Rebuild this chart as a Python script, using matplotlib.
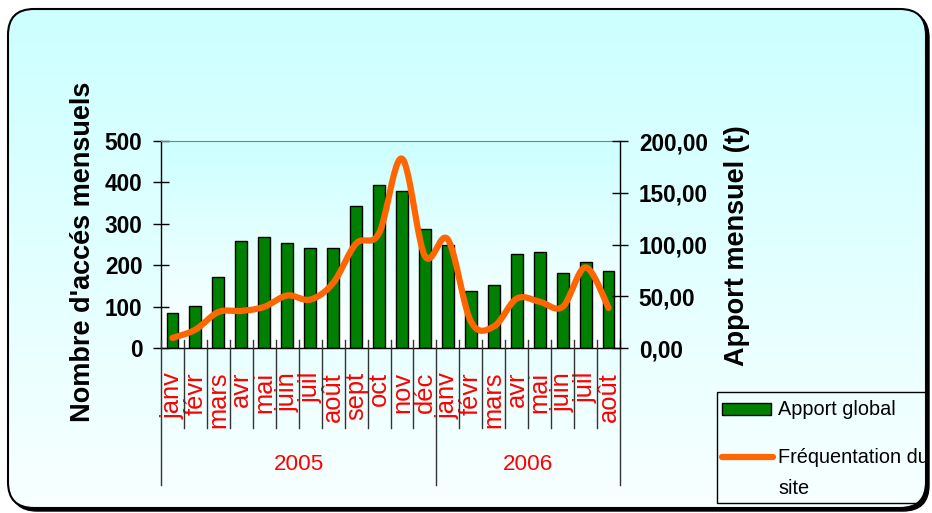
import numpy as np
import matplotlib
matplotlib.use("Agg")
import matplotlib.pyplot as plt
from matplotlib.patches import FancyBboxPatch, Rectangle
from matplotlib.lines import Line2D
from matplotlib.colors import LinearSegmentedColormap
import matplotlib.transforms as mtransforms

plt.rcParams['font.family'] = ['Liberation Sans', 'DejaVu Sans']

# ---------------- data ----------------
months = ['janv', 'févr', 'mars', 'avr', 'mai', 'juin', 'juil', 'août', 'sept',
          'oct', 'nov', 'déc', 'janv', 'févr', 'mars', 'avr', 'mai', 'juin',
          'juil', 'août']
years = ['2005', '2006']
year_counts = [12, 8]
apport_global = [86, 102, 173, 259, 268, 253, 243, 243, 343, 395, 379, 288,
                 248, 137, 153, 228, 232, 182, 208, 187]
frequentation = [10, 18, 35, 36, 40, 51, 47, 63, 101, 111, 183, 89,
                 105, 26, 21, 48, 45, 40, 78, 39]
left_ticks = [0, 100, 200, 300, 400, 500]
right_ticks = [0, 50, 100, 150, 200]
right_tick_labels = ['0,00', '50,00', '100,00', '150,00', '200,00']
left_label = "Nombre d'accés mensuels"
right_label = "Apport mensuel (t)"
legend_labels = ['Apport global', 'Fréquentation du\nsite']

W, H = 932, 513
fig = plt.figure(figsize=(W / 100, H / 100), dpi=100)
fig.patch.set_facecolor('white')

# ---------------- background frame ----------------
bg = fig.add_axes([0, 0, 1, 1], zorder=-10)
bg.set_xlim(0, W)
bg.set_ylim(H, 0)
bg.axis('off')
fx0, fy0, fx1, fy1 = 8, 9, 926, 508
shadow = FancyBboxPatch((fx0 + 3, fy0 + 3), fx1 - fx0, fy1 - fy0,
                        boxstyle='round,pad=0,rounding_size=26',
                        facecolor='black', edgecolor='black', lw=1, zorder=1)
bg.add_patch(shadow)
frame = FancyBboxPatch((fx0, fy0), fx1 - fx0, fy1 - fy0,
                       boxstyle='round,pad=0,rounding_size=26',
                       facecolor='white', edgecolor='none', zorder=1.1)
bg.add_patch(frame)
cmap_bg = LinearSegmentedColormap.from_list('bg', ['#ccffff', '#f8ffff'])
grad = np.linspace(0, 1, 256).reshape(-1, 1)
im = bg.imshow(grad, cmap=cmap_bg, extent=(fx0, fx1, fy1, fy0), aspect='auto',
               origin='upper', zorder=1.2)
im.set_clip_path(frame)
frame_outline = FancyBboxPatch((fx0, fy0), fx1 - fx0, fy1 - fy0,
                               boxstyle='round,pad=0,rounding_size=26',
                               facecolor='none', edgecolor='black', lw=1.5,
                               zorder=1.3)
bg.add_patch(frame_outline)

# ---------------- legend (manual, clipped by frame) ----------------
leg_box = Rectangle((717, 392), 260, 111, facecolor='none', edgecolor='black',
                    lw=1, zorder=2)
bg.add_patch(leg_box)
leg_box.set_clip_path(frame)
gp = Rectangle((722, 403), 49, 12, facecolor='#008000', edgecolor='black', lw=1,
               zorder=2)
bg.add_patch(gp)
ol = Line2D([722, 773], [457, 457], color='#ff6600', lw=4.5,
            solid_capstyle='round', zorder=2)
bg.add_line(ol)
t1 = bg.text(778, 409.5, legend_labels[0], fontsize=14.3, va='center', ha='left',
             zorder=2)
t2 = bg.text(778, 448, legend_labels[1], fontsize=14.3, va='top', ha='left',
             linespacing=1.78, zorder=2)
t1.set_clip_path(frame)
t2.set_clip_path(frame)

# ---------------- plot axes ----------------
ax_left, ax_right, ax_top, ax_bot = 161, 620, 141, 348.3
ax = fig.add_axes([ax_left / W, (H - ax_bot) / H, (ax_right - ax_left) / W,
                   (ax_bot - ax_top) / H])
ax.patch.set_visible(False)
cmap_plot = LinearSegmentedColormap.from_list('pl', ['#ccffff', '#ffffff'])
ax.imshow(grad, cmap=cmap_plot, extent=(0, 1, 0, 1), transform=ax.transAxes,
          aspect='auto', origin='upper', zorder=0)

n = len(months)
xc = np.arange(n) + 0.5
ax.bar(xc, apport_global, width=0.52, color='#008000', edgecolor='black',
       lw=1, zorder=2)
ax.set_xlim(0, n)
ax.set_ylim(left_ticks[0], left_ticks[-1])
ax.set_yticks(left_ticks)
ax.set_yticklabels([str(v) for v in left_ticks], fontsize=16.3, fontweight='bold')
ax.tick_params(axis='y', direction='inout', length=11, width=1, pad=8)
ax.set_xticks(xc)
ax.set_xticklabels(months, rotation=90, color='red', fontsize=18.4)
ax.tick_params(axis='x', length=0, pad=17)
ax.spines['top'].set_color('#808080')
ax.spines['right'].set_visible(False)
for s in ['left', 'bottom']:
    ax.spines[s].set_color('black')
    ax.spines[s].set_linewidth(1)

# separators below x axis
trans = mtransforms.blended_transform_factory(ax.transData, ax.transAxes)
ybot_small = (ax_bot - 428) / (ax_bot - ax_top)
ybot_big = (ax_bot - 485) / (ax_bot - ax_top)
ytop_sep = (ax_bot - 340) / (ax_bot - ax_top)
bounds = np.cumsum([0] + year_counts)
for i in range(n + 1):
    yb = ybot_big if i in bounds else ybot_small
    ax.plot([i, i], [ytop_sep, yb], transform=trans, color='#333333', lw=1,
            clip_on=False, zorder=3)
year_y = (ax_bot - 464) / (ax_bot - ax_top)
for k, yr in enumerate(years):
    ax.text((bounds[k] + bounds[k + 1]) / 2, year_y, yr, transform=trans,
            color='red', fontsize=16.2, ha='center', va='center')

ax.set_ylabel(left_label, fontsize=19.5, fontweight='bold')
ax.yaxis.set_label_coords((83.5 - ax_left) / (ax_right - ax_left),
                          (ax_bot - 251.5) / (ax_bot - ax_top))
ax.yaxis.label.set(ha='center', va='center', rotation_mode='anchor')

# ---------------- secondary axis with smoothed line ----------------
ax2 = ax.twinx()
ax2.set_ylim(right_ticks[0], right_ticks[-1])
ax2.set_yticks(right_ticks)
ax2.set_yticklabels(right_tick_labels, fontsize=16.3, fontweight='bold')
ax2.tick_params(axis='y', direction='inout', length=11, width=1, pad=8)
for s in ['top', 'left', 'bottom']:
    ax2.spines[s].set_visible(False)
ax2.spines['right'].set_color('black')
ax2.spines['right'].set_linewidth(1)


def catmull_rom(xs, ys, steps=24):
    P = np.column_stack([xs, ys]).astype(float)
    P = np.vstack([P[0], P, P[-1]])
    out = []
    t = np.linspace(0, 1, steps, endpoint=False)[:, None]
    for i in range(1, len(P) - 2):
        p0, p1, p2, p3 = P[i - 1], P[i], P[i + 1], P[i + 2]
        c = 0.5 * (2 * p1 + (-p0 + p2) * t + (2 * p0 - 5 * p1 + 4 * p2 - p3) * t ** 2
                   + (-p0 + 3 * p1 - 3 * p2 + p3) * t ** 3)
        out.append(c)
    out.append(P[-2][None, :])
    out = np.vstack(out)
    return out[:, 0], out[:, 1]


sx, sy = catmull_rom(xc, frequentation)
ax2.plot(sx, sy, color='#ff6600', lw=4.5, solid_capstyle='round', zorder=4)
ax2.set_ylabel(right_label, fontsize=19.5, fontweight='bold', rotation=90)
ax2.yaxis.set_label_coords((737.5 - ax_left) / (ax_right - ax_left),
                           (ax_bot - 246) / (ax_bot - ax_top))
ax2.yaxis.label.set(ha='center', va='center', rotation_mode='anchor')

fig.savefig('out.png', dpi=100)
